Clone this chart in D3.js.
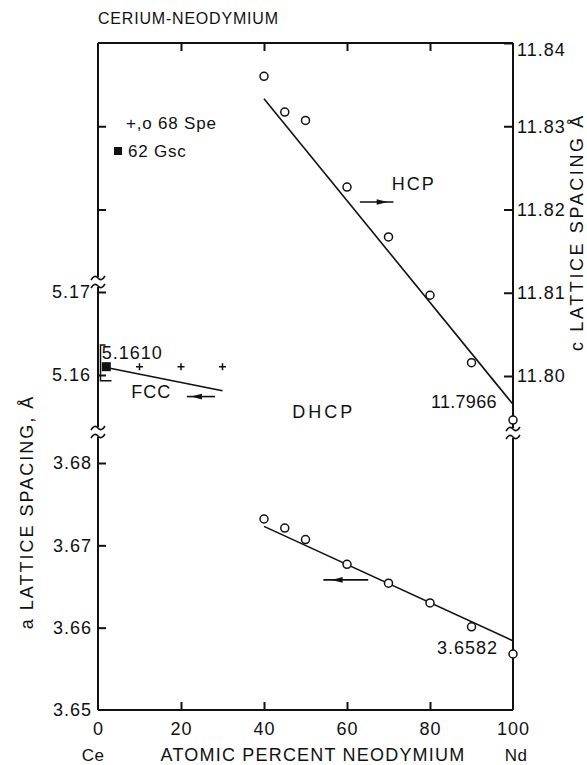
<!DOCTYPE html>
<html><head><meta charset="utf-8">
<script src="https://cdn.jsdelivr.net/npm/d3@7"></script>
<style>
body{margin:0;background:#fff;}
svg{display:block;}
text{font-family:"Liberation Sans",Arial,Helvetica,sans-serif;fill:#111;}
</style></head><body>
<svg id="c" width="587" height="765"></svg>
<script>
// ---------- data ----------
const xTickValues = [0, 20, 40, 60, 80, 100];
const xTickLabels = ["0", "20", "40", "60", "80", "100"];
const cTickValues = [11.80, 11.81, 11.82, 11.83, 11.84];
const cTickLabels = ["11.80", "11.81", "11.82", "11.83", "11.84"];
const aLowTickValues = [3.65, 3.66, 3.67, 3.68];
const aLowTickLabels = ["3.65", "3.66", "3.67", "3.68"];
const aHighTickValues = [5.16, 5.17];
const aHighTickLabels = ["5.16", "5.17"];

// HCP c lattice spacing (right axis) – open circles (68 Spe)
const hcpX = [40, 45, 50, 60, 70, 80, 90, 100];
const hcpC = [11.8360, 11.8317, 11.8307, 11.8227, 11.8167, 11.8097, 11.8016, 11.7947];
const hcpFitX = [40, 100];
const hcpFitC = [11.8333, 11.7966];

// DHCP a lattice spacing (left, lower) – open circles (68 Spe)
const dhcpX = [40, 45, 50, 60, 70, 80, 90, 100];
const dhcpA = [3.6732, 3.6721, 3.6707, 3.6677, 3.6654, 3.6630, 3.6601, 3.6568];
const dhcpFitX = [40, 100];
const dhcpFitA = [3.6723, 3.6584];

// FCC a lattice spacing (left, upper)
const fccPlusX = [10, 20, 30];          // + 68 Spe
const fccPlusA = [5.1610, 5.1610, 5.1610];
const fccGscX = [2];                    // filled square 62 Gsc
const fccGscA = [5.1610];
const fccGscRange = [5.1636, 5.1593];   // bracket beside the 62 Gsc point
const fccFitX = [2, 30];
const fccFitA = [5.1609, 5.1581];

// ---------- scales ----------
const svg = d3.select("#c");
const x = d3.scaleLinear([0, 100], [98, 513]);
const yC = d3.scaleLinear([11.80, 11.84], [376, 43]);
const yA = d3.scaleLinear([3.65, 3.68], [710, 463]);
const yF = d3.scaleLinear([5.16, 5.17], [375, 292]);

const L = x(0), R = x(100), T = yC(11.84), B = yA(3.65);
const ink = "#111";
const FONT = '"Liberation Sans",Arial,Helvetica,sans-serif';

// ---------- frame ----------
const frame = svg.append("g").attr("stroke", ink).attr("stroke-width", 2).attr("fill", "none");
frame.append("line").attr("x1", L).attr("x2", R).attr("y1", T).attr("y2", T);
frame.append("line").attr("x1", L).attr("x2", R).attr("y1", B).attr("y2", B);
frame.append("line").attr("x1", L).attr("x2", L).attr("y1", T).attr("y2", B);
frame.append("line").attr("x1", R).attr("x2", R).attr("y1", T).attr("y2", B);

function styleAxis(g) {
  g.select(".domain").remove();
  g.attr("font-family", FONT).attr("font-size", 18);
  g.selectAll(".tick line").attr("stroke", ink).attr("stroke-width", 2);
  g.selectAll(".tick text").attr("fill", ink).style("letter-spacing", "1px");
}

// bottom axis
svg.append("g").attr("transform", `translate(0,${B})`)
  .call(d3.axisBottom(x).tickValues(xTickValues).tickFormat((d, i) => xTickLabels[i]).tickSize(-8).tickPadding(12))
  .call(styleAxis)
  .call(g => g.selectAll(".tick").filter(d => d === 0 || d === 100).select("line").remove());
// top axis ticks
svg.append("g").attr("transform", `translate(0,${T})`)
  .call(d3.axisTop(x).tickValues([20, 40, 60, 80]).tickFormat("").tickSize(-8))
  .call(styleAxis);
// right axis (c)
svg.append("g").attr("transform", `translate(${R},0)`)
  .call(d3.axisRight(yC).tickValues(cTickValues).tickFormat((d, i) => cTickLabels[i]).tickSize(-9).tickPadding(4))
  .call(styleAxis)
  .call(g => g.selectAll(".tick").filter(d => d === 11.84).select("text").attr("dy", "0.7em"));
// left unlabeled ticks on upper part
svg.append("g").attr("transform", `translate(${L},0)`)
  .call(d3.axisLeft(yC).tickValues([11.83, 11.82]).tickFormat("").tickSize(-8))
  .call(styleAxis);
// left upper (FCC a)
svg.append("g").attr("transform", `translate(${L},0)`)
  .call(d3.axisLeft(yF).tickValues(aHighTickValues).tickFormat((d, i) => aHighTickLabels[i]).tickSize(-8).tickPadding(7))
  .call(styleAxis);
// left lower (DHCP a)
svg.append("g").attr("transform", `translate(${L},0)`)
  .call(d3.axisLeft(yA).tickValues(aLowTickValues).tickFormat((d, i) => aLowTickLabels[i]).tickSize(-8).tickPadding(6))
  .call(styleAxis)
  .call(g => g.selectAll(".tick").filter(d => d === 3.65).select("line").remove());

// axis breaks
function axisBreak(cx, cy) {
  const g = svg.append("g").attr("transform", `translate(${cx},${cy})`);
  g.append("rect").attr("x", -4).attr("y", -5).attr("width", 8).attr("height", 10).attr("fill", "#fff");
  [-4, 4].forEach(dy => {
    g.append("path").attr("d", `M-7,${dy + 2} Q-3.5,${dy - 4} 0,${dy} T7,${dy - 2}`)
      .attr("fill", "none").attr("stroke", ink).attr("stroke-width", 1.6);
  });
}
axisBreak(L, 282);
axisBreak(L, 432);
axisBreak(R, 433);

// ---------- fit lines ----------
const lineG = svg.append("g").attr("stroke", ink).attr("stroke-width", 1.6).attr("fill", "none");
lineG.append("path").attr("d", d3.line()(hcpFitX.map((v, i) => [x(v), yC(hcpFitC[i])])));
lineG.append("path").attr("d", d3.line()(dhcpFitX.map((v, i) => [x(v), yA(dhcpFitA[i])])));
lineG.append("path").attr("d", d3.line()(fccFitX.map((v, i) => [x(v), yF(fccFitA[i])])));

// bracket beside 62 Gsc point
{
  const bx = L + 2.5, y1 = yF(fccGscRange[0]), y2 = yF(fccGscRange[1]);
  svg.append("path")
    .attr("d", `M${bx + 5},${y1}H${bx}V${y2}H${bx + 11}`)
    .attr("fill", "none").attr("stroke", ink).attr("stroke-width", 1.5);
}

// ---------- markers ----------
svg.append("g").selectAll("circle").data(hcpX).join("circle")
  .attr("cx", d => x(d)).attr("cy", (d, i) => yC(hcpC[i])).attr("r", 4)
  .attr("fill", "#fff").attr("stroke", ink).attr("stroke-width", 1.5);
svg.append("g").selectAll("circle").data(dhcpX).join("circle")
  .attr("cx", d => x(d)).attr("cy", (d, i) => yA(dhcpA[i])).attr("r", 4)
  .attr("fill", "#fff").attr("stroke", ink).attr("stroke-width", 1.5);
svg.append("g").selectAll("path").data(fccPlusX).join("path")
  .attr("d", (d, i) => { const px = x(d), py = yF(fccPlusA[i]); return `M${px - 3.5},${py}H${px + 3.5}M${px},${py - 3.5}V${py + 3.5}`; })
  .attr("stroke", ink).attr("stroke-width", 1.5);
svg.append("g").selectAll("rect").data(fccGscX).join("rect")
  .attr("x", d => x(d) - 4.5).attr("y", (d, i) => yF(fccGscA[i]) - 4.5).attr("width", 9).attr("height", 9).attr("fill", ink);

// ---------- arrows ----------
function arrow(x1, x2, yPix, tip, dir) {
  const g = svg.append("g");
  g.append("line").attr("x1", x(x1)).attr("x2", x(x2)).attr("y1", yPix).attr("y2", yPix)
    .attr("stroke", ink).attr("stroke-width", 1.6);
  const t = x(tip);
  g.append("path").attr("d", `M${t},${yPix}L${t - dir * 11},${yPix - 2.8}L${t - dir * 11},${yPix + 2.8}Z`).attr("fill", ink);
}
arrow(63.1, 71.2, yC(11.8209), 69.8, 1);
arrow(54.3, 65.1, yA(3.6658), 56.3, -1);
arrow(21.4, 28.2, yF(5.1574), 22.4, -1);

// ---------- text ----------
function txt(s, px, py, opt = {}) {
  return svg.append("text").attr("x", px).attr("y", py)
    .attr("font-size", opt.size || 18)
    .attr("text-anchor", opt.anchor || "start")
    .attr("dominant-baseline", "central")
    .style("letter-spacing", (opt.ls != null ? opt.ls : 1) + "px")
    .attr("transform", opt.rot ? `rotate(${opt.rot},${px},${py})` : null)
    .text(s);
}
txt("CERIUM-NEODYMIUM", 98, 18, { size: 16, ls: 0.8 });
txt("HCP", x(70.8), yC(11.8231), { size: 18, ls: 2 });
txt("DHCP", x(46.8), 412, { size: 18, ls: 3 });
txt("FCC", x(8), yF(5.1580), { size: 18, ls: 1 });
txt("5.1610", x(0.9), yF(5.16265), { size: 18, ls: 1 });
txt("11.7966", x(96.1), yC(11.7969), { size: 18, ls: 0.3, anchor: "end" });
txt("3.6582", x(96.4), yA(3.6575), { size: 18, ls: 1, anchor: "end" });
// legend
txt("+,o 68 Spe", 126, 123, { size: 17, ls: 0.8 });
svg.append("rect").attr("x", 114).attr("y", 147).attr("width", 8).attr("height", 8).attr("fill", ink);
txt("62 Gsc", 128, 151, { size: 17, ls: 0.8 });
// axis titles
txt("Ce", 93, 755, { size: 17, ls: 0.5, anchor: "middle" });
txt("ATOMIC PERCENT NEODYMIUM", 313, 755, { size: 18, ls: 1.2, anchor: "middle" });
txt("Nd", 516, 755, { size: 17, ls: 0.5, anchor: "middle" });
txt("a LATTICE SPACING, Å", 27, 512, { size: 18, ls: 2, anchor: "middle", rot: -90 });
txt("c LATTICE SPACING Å", 577, 232, { size: 18, ls: 2.6, anchor: "middle", rot: -90 });
</script>
</body></html>
